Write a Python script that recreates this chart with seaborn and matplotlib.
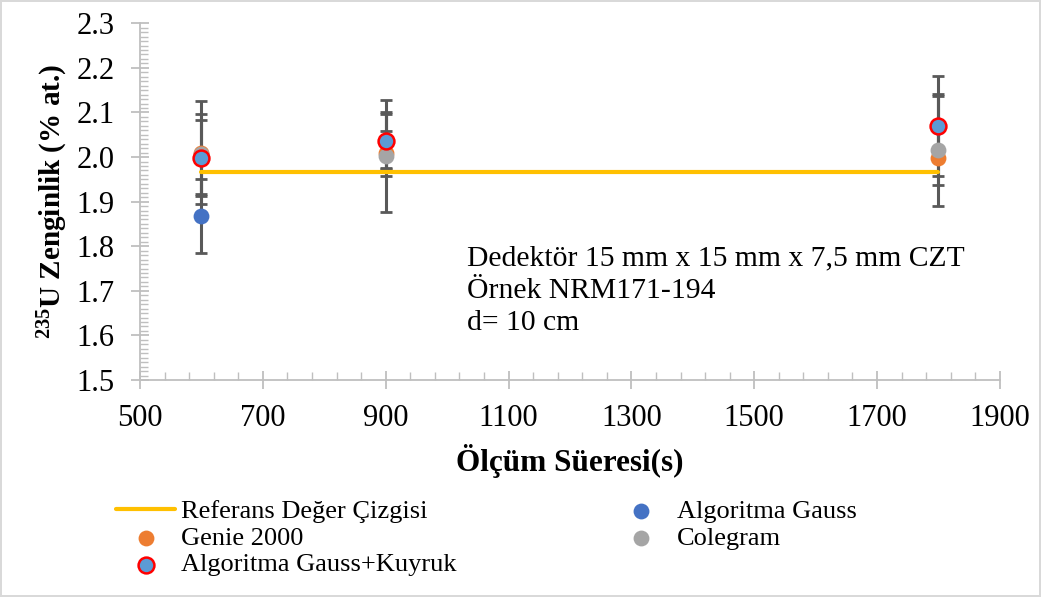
import numpy as np
import pandas as pd
import matplotlib
matplotlib.use("Agg")
import matplotlib.pyplot as plt
import seaborn as sns
from matplotlib.ticker import FixedLocator, MultipleLocator, FormatStrFormatter

# ---- data ----
times = [600, 900, 1800]
ref_value = [1.967, 1.967, 1.967]
genie = [2.010, 2.008, 1.998]
genie_err = [0.115, 0.050, 0.060]
gauss = [1.867, 2.036, 2.068]
gauss_err = [0.083, 0.060, 0.070]
colegram = [2.007, 2.002, 2.016]
colegram_err = [0.089, 0.125, 0.126]
gk = [1.998, 2.037, 2.070]
gk_err = [0.085, 0.063, 0.112]

x_ticks = [500, 700, 900, 1100, 1300, 1500, 1700, 1900]
labels = ["Referans Değer Çizgisi", "Genie 2000", "Algoritma Gauss",
          "Colegram", "Algoritma Gauss+Kuyruk"]
x_label = "Ölçüm Süeresi(s)"
y_label = r"$\mathbf{^{235}}$U Zenginlik (% at.)"
note = "Dedektör 15 mm x 15 mm x 7,5 mm CZT\nÖrnek NRM171-194\nd= 10 cm"

sns.set_theme(style="white")
plt.rcParams["font.family"] = ["Liberation Serif", "DejaVu Serif"]
plt.rcParams["mathtext.fontset"] = "custom"
plt.rcParams["mathtext.rm"] = "Liberation Serif"
plt.rcParams["mathtext.bf"] = "Liberation Serif:bold"
plt.rcParams["text.color"] = "black"
plt.rcParams["axes.labelcolor"] = "black"

fig = plt.figure(figsize=(10.41, 5.97), dpi=100)
fig.patch.set_edgecolor("#D9D9D9")
fig.patch.set_linewidth(1.5)
ax = fig.add_axes([0.1345, 0.3635, 0.826, 0.5975])

err_col = "#595959"
series = [
    (genie, genie_err, "#ED7D31", None, labels[1]),
    (gauss, gauss_err, "#4472C4", None, labels[2]),
    (colegram, colegram_err, "#A5A5A5", None, labels[3]),
    (gk, gk_err, "#5B9BD5", "#FF0000", labels[4]),
]

# error bars
for vals, errs, col, ec, lab in series:
    ax.errorbar(times, vals, yerr=errs, fmt="none", ecolor=err_col,
                elinewidth=2.2, capsize=4.5, capthick=2.0, zorder=2)

# reference line
ref_df = pd.DataFrame({"t": times, "v": ref_value})
sns.lineplot(data=ref_df, x="t", y="v", color="#FFC000", linewidth=3,
             label=labels[0], ax=ax, zorder=3)

# markers
for vals, errs, col, ec, lab in series:
    df = pd.DataFrame({"t": times, "v": vals})
    sns.scatterplot(data=df, x="t", y="v", color=col, s=130,
                    edgecolor=(ec if ec else col),
                    linewidth=(1.8 if ec else 0), label=lab, ax=ax, zorder=4)

ax.set_xlim(500, 1900)
ax.set_ylim(1.5, 2.3)
ax.xaxis.set_major_locator(FixedLocator(x_ticks))
ax.xaxis.set_minor_locator(FixedLocator(np.arange(500, 1901, 40)))
ax.yaxis.set_major_locator(MultipleLocator(0.1))
ax.yaxis.set_minor_locator(MultipleLocator(0.01))
ax.yaxis.set_major_formatter(FormatStrFormatter("%.1f"))

axis_col = "#BFBFBF"
for s in ["top", "right"]:
    ax.spines[s].set_visible(False)
for s in ["left", "bottom"]:
    ax.spines[s].set_color(axis_col)
    ax.spines[s].set_linewidth(1.3)
ax.tick_params(which="major", direction="inout", length=13, width=1.3,
               color=axis_col, labelsize=22, labelcolor="black")
ax.tick_params(which="minor", direction="in", length=6, width=1.0,
               color=axis_col)
ax.tick_params(axis="x", which="major", pad=11)
ax.tick_params(axis="y", which="major", pad=12)
ax.tick_params(axis="x", which="both", bottom=True)
ax.tick_params(axis="y", which="both", left=True)

ax.set_xlabel(x_label, fontsize=22.5, fontweight="bold", labelpad=8)
ax.set_ylabel(y_label, fontsize=21, fontweight="bold", labelpad=4.5)

ax.text(1032, 1.70, note, fontsize=21.3, va="center", ha="left",
        linespacing=1.3)

handles, labs = ax.get_legend_handles_labels()
order = [labels[0], labels[1], labels[4], labels[2], labels[3]]
hmap = dict(zip(labs, handles))
if ax.get_legend():
    ax.get_legend().remove()
fig.legend([hmap[l] for l in order], order, ncol=2, loc="upper left",
           bbox_to_anchor=(0.111, 0.163), frameon=False, fontsize=19,
           handlelength=2.27, handletextpad=0.2, labelspacing=0.12,
           columnspacing=5.88, borderaxespad=0, borderpad=0)

fig.savefig("out.png", dpi=100)
